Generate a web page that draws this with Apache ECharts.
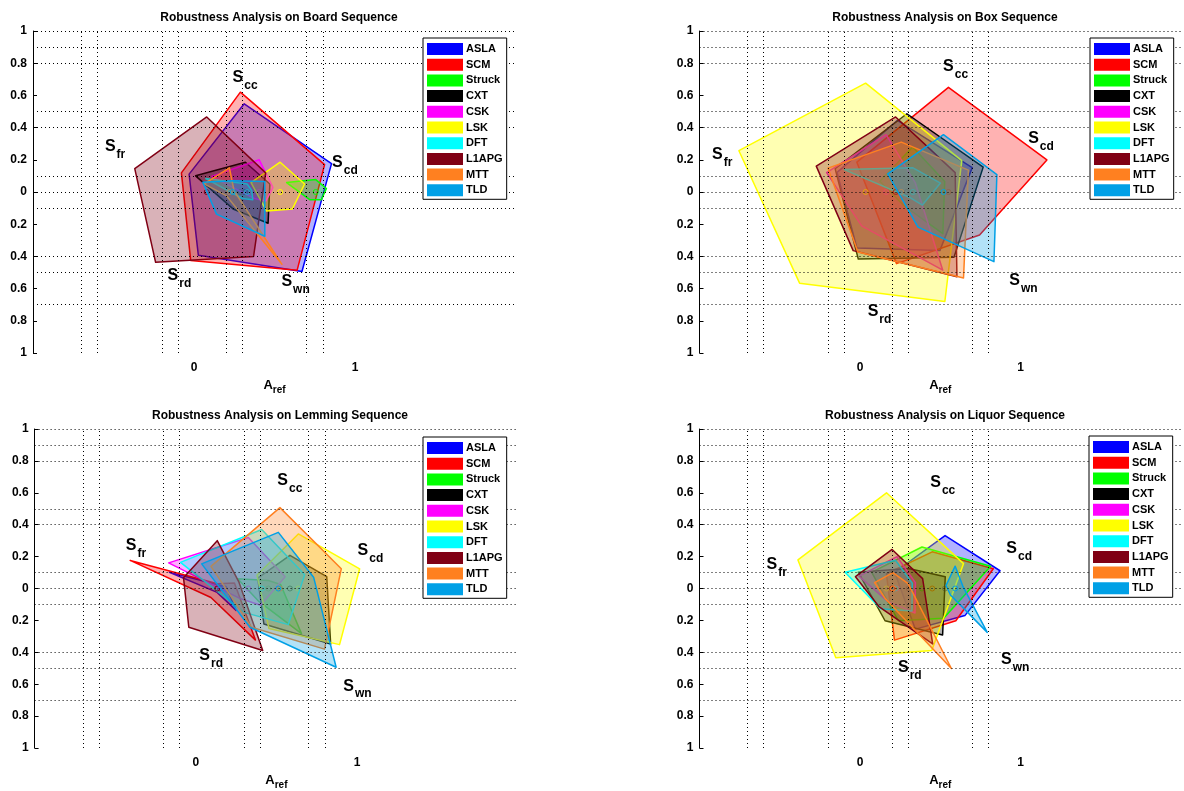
<!DOCTYPE html>
<html>
<head>
<meta charset="utf-8">
<script src="https://cdn.jsdelivr.net/npm/echarts@6/dist/echarts.min.js"></script>
<style>
html,body{margin:0;padding:0;background:#fff;}
#chart{width:1184px;height:791px;}
</style>
</head>
<body>
<div id="chart"></div>
<script>
// ---------------- data ----------------
const trackers = ['ASLA','SCM','Struck','CXT','CSK','LSK','DFT','L1APG','MTT','TLD'];
const trackerColors = ['#0000ff','#ff0000','#00ff00','#000000','#ff00ff','#ffff00','#00ffff','#800014','#ff8020','#00a0e6'];
const sequences = ['Board','Box','Lemming','Liquor'];
const axisNames = ['cc','cd','wn','rd','fr'];
const axisAngles = [90, 18, -54, -126, 162];

// Board sequence: A_ref and robustness scores per tracker (order of `trackers`)
const boardAref = [0.312, 0.288, 0.756, 0.319, 0.405, 0.535, 0.33, 0.079, 0.22, 0.24];
const boardCC   = [0.548, 0.62, 0.077, 0.185, 0.20, 0.185, 0.05, 0.466, 0.15, 0.07];
const boardCD   = [0.57, 0.55, 0.07, 0.16, 0.09, 0.16, 0.03, 0.385, 0.03, 0.21];
const boardWN   = [0.61, 0.60, 0.06, 0.24, 0.07, 0.13, 0.06, 0.495, 0.555, 0.34];
const boardRD   = [0.485, 0.525, 0.06, 0.13, 0.05, 0.145, 0.05, 0.54, 0.03, 0.17];
const boardFR   = [0.36, 0.385, 0.19, 0.325, 0.31, 0.19, 0.27, 0.47, 0.165, 0.195];

// Box sequence
const boxAref = [0.233, 0.551, 0.328, 0.292, 0.163, 0.035, 0.33, 0.222, 0.257, 0.52];
const boxCC   = [0.445, 0.65, 0.28, 0.486, 0.356, 0.676, 0.15, 0.466, 0.31, 0.356];
const boxCD   = [0.49, 0.645, 0.21, 0.50, 0.19, 0.63, 0.18, 0.39, 0.44, 0.35];
const boxWN   = [0.45, 0.33, 0.32, 0.50, 0.60, 0.84, 0.10, 0.65, 0.66, 0.535];
const boxRD   = [0.43, 0.55, 0.10, 0.515, 0.26, 0.70, 0.04, 0.45, 0.46, 0.27];
const boxFR   = [0.395, 0.60, 0.215, 0.47, 0.39, 0.83, 0.45, 0.52, 0.48, 0.365];

// Lemming sequence
const lemmingAref = [0.15, 0.135, 0.45, 0.584, 0.326, 0.636, 0.409, 0.133, 0.522, 0.512];
const lemmingCC   = [0.02, 0.03, 0.05, 0.208, 0.32, 0.342, 0.37, 0.30, 0.507, 0.352];
const lemmingCD   = [0.04, 0.11, 0.08, 0.24, 0.24, 0.40, 0.28, 0.14, 0.40, 0.23];
const lemmingWN   = [0.17, 0.40, 0.35, 0.43, 0.13, 0.435, 0.28, 0.48, 0.47, 0.61];
const lemmingRD   = [0.03, 0.07, 0.10, 0.275, 0.08, 0.31, 0.185, 0.30, 0.30, 0.30];
const lemmingFR   = [0.33, 0.57, 0.20, 0.21, 0.52, 0.27, 0.53, 0.22, 0.45, 0.50];

// Liquor sequence
const liquorAref = [0.53, 0.45, 0.386, 0.303, 0.231, 0.165, 0.221, 0.20, 0.205, 0.593];
const liquorCC   = [0.332, 0.23, 0.26, 0.126, 0.20, 0.60, 0.177, 0.245, 0.10, 0.14];
const liquorCD   = [0.36, 0.40, 0.45, 0.24, 0.12, 0.505, 0.11, 0.20, 0.10, 0.05];
const liquorWN   = [0.21, 0.25, 0.23, 0.36, 0.19, 0.48, 0.175, 0.43, 0.62, 0.34];
const liquorRD   = [0.315, 0.40, 0.25, 0.25, 0.10, 0.537, 0.157, 0.14, 0.08, 0.05];
const liquorFR   = [0.33, 0.30, 0.33, 0.33, 0.25, 0.58, 0.33, 0.24, 0.12, 0.06];

// tick labels / grid lines
const xTickLabels = ['0', '1'];
const hGridLines = [1, 0.9, 0.8, 0.5, 0.4, 0.1, 0, -0.1, -0.4, -0.5, -0.7];
const vGridBoard = [-0.7, -0.6, -0.2, -0.1, 0.2, 0.3, 0.7, 0.8];
const vGridBox = [-0.7, -0.6, -0.2, -0.1, 0.2, 0.3, 0.7, 0.8];
const vGridLemming = [-0.7, -0.6, -0.2, -0.1, 0.3, 0.4, 0.7, 0.8];
const vGridLiquor = [-0.7, -0.6, -0.2, -0.1, 0.2, 0.3, 0.7, 0.8];

// ---------------- layout (pixels / annotation placement) ----------------
const panels = [
  {seq:'Board', aref:boardAref, cc:boardCC, cd:boardCD, wn:boardWN, rd:boardRD, fr:boardFR, vgrid:vGridBoard,
   grid:{left:33, top:31, width:483, height:322}, titleX:274, titleY:7, legend:{left:423, top:38},
   labels:[[0.277,0.711],[0.895,0.18],[0.58,-0.558],[-0.127,-0.517],[-0.516,0.284]]},
  {seq:'Box', aref:boxAref, cc:boxCC, cd:boxCD, wn:boxWN, rd:boxRD, fr:boxFR, vgrid:vGridBox,
   grid:{left:699.5, top:31, width:484.5, height:322}, titleX:940, titleY:7, legend:{left:1090, top:38},
   labels:[[0.555,0.779],[1.085,0.329],[0.968,-0.552],[0.085,-0.742],[-0.885,0.232]]},
  {seq:'Lemming', aref:lemmingAref, cc:lemmingCC, cd:lemmingCD, wn:lemmingWN, rd:lemmingRD, fr:lemmingFR, vgrid:vGridLemming,
   grid:{left:34.6, top:429, width:483.6, height:322}, titleX:275, titleY:405, legend:{left:423, top:437},
   labels:[[0.543,0.678],[1.041,0.239],[0.952,-0.612],[0.059,-0.42],[-0.397,0.27]]},
  {seq:'Liquor', aref:liquorAref, cc:liquorCC, cd:liquorCD, wn:liquorWN, rd:liquorRD, fr:liquorFR, vgrid:vGridLiquor,
   grid:{left:699.5, top:429, width:484.5, height:322}, titleX:940, titleY:405, legend:{left:1089, top:436},
   labels:[[0.475,0.666],[0.949,0.249],[0.916,-0.448],[0.274,-0.497],[-0.545,0.15]]}
];

const FONT = '"Liberation Sans", Arial, Helvetica, sans-serif';

function hexToRgba(hex, a){
  const n = parseInt(hex.slice(1), 16);
  return 'rgba(' + ((n>>16)&255) + ',' + ((n>>8)&255) + ',' + (n&255) + ',' + a + ')';
}

const grids = [], xAxes = [], yAxes = [], titles = [], legends = [], series = [];

panels.forEach(function(p, pi){
  grids.push(Object.assign({containLabel:false}, p.grid));
  titles.push({
    text: 'Robustness Analysis on ' + p.seq + ' Sequence',
    left: p.titleX, top: p.titleY, textAlign: 'center',
    textStyle: {fontFamily: FONT, fontSize: 12, fontWeight: 'bold', color: '#000'}
  });
  xAxes.push({
    type: 'value', gridIndex: pi, min: -1, max: 2, interval: 1,
    axisLine: {show: false, onZero: false}, axisTick: {show: false}, splitLine: {show: false},
    axisLabel: {
      margin: 9, fontFamily: FONT, fontSize: 12, fontWeight: 'bold', color: '#000',
      formatter: function(v){ const s = String(Math.round(v)); return xTickLabels.indexOf(s) >= 0 ? s : ''; }
    },
    name: '{a|A}{b|ref}', nameLocation: 'middle', nameGap: 22,
    nameTextStyle: {
      rich: {
        a: {fontFamily: FONT, fontSize: 13, fontWeight: 'bold', color: '#000'},
        b: {fontFamily: FONT, fontSize: 10, fontWeight: 'bold', color: '#000', padding: [10, 0, 0, 0]}
      }
    }
  });
  yAxes.push({
    type: 'value', gridIndex: pi, min: -1, max: 1, interval: 0.2,
    axisLine: {show: true, onZero: false, lineStyle: {color: '#000', width: 1}},
    axisTick: {show: true, inside: true, length: 4, lineStyle: {color: '#000'}},
    splitLine: {show: false},
    axisLabel: {
      margin: 6, fontFamily: FONT, fontSize: 12, fontWeight: 'bold', color: '#000',
      formatter: function(v){ return String(parseFloat(Math.abs(v).toFixed(1))); }
    }
  });
  legends.push({
    data: trackers.slice(), orient: 'vertical', left: p.legend.left, top: p.legend.top,
    icon: 'rect', itemWidth: 36, itemHeight: 12, itemGap: 3.7,
    borderColor: '#000', borderWidth: 1, padding: [5, 4, 3, 4],
    backgroundColor: '#fff', z: 10,
    selectedMode: false,
    textStyle: {fontFamily: FONT, fontSize: 11, fontWeight: 'bold', color: '#000', padding: [0,0,0,-2]}
  });

  // grid lines (dotted) via markLine
  const ml = [];
  hGridLines.forEach(function(v){ ml.push({yAxis: v}); });
  p.vgrid.forEach(function(v){ ml.push({xAxis: v}); });
  series.push({
    type: 'scatter', xAxisIndex: pi, yAxisIndex: pi, data: [], silent: true, z: 1,
    markLine: {
      silent: true, symbol: ['none','none'], animation: false,
      label: {show: false},
      lineStyle: {type: [1, 3], color: '#000', width: 1},
      emphasis: {disabled: true},
      data: ml
    }
  });

  // polygons
  trackers.forEach(function(name, i){
    const col = trackerColors[i];
    series.push({
      name: name, type: 'custom', xAxisIndex: pi, yAxisIndex: pi, z: 3,
      itemStyle: {color: col},
      data: [[p.aref[i], p.cc[i], p.cd[i], p.wn[i], p.rd[i], p.fr[i]]],
      silent: true,
      renderItem: function(params, api){
        const cx = api.value(0);
        const pts = [];
        for (let k = 0; k < 5; k++) {
          const r = api.value(k + 1);
          const a = axisAngles[k] * Math.PI / 180;
          pts.push(api.coord([cx + r * Math.cos(a), r * Math.sin(a)]));
        }
        const c = api.coord([cx, 0]);
        return {
          type: 'group',
          children: [
            {type: 'polygon', shape: {points: pts},
             style: {fill: hexToRgba(col, 0.3), stroke: col, lineWidth: 1.5, lineJoin: 'round'}},
            {type: 'circle', shape: {cx: c[0], cy: c[1], r: 2.5},
             style: {fill: 'none', stroke: col, lineWidth: 1}}
          ]
        };
      }
    });
  });

  // S_xx axis labels
  series.push({
    type: 'scatter', xAxisIndex: pi, yAxisIndex: pi, z: 5, silent: true, symbolSize: 0,
    itemStyle: {opacity: 1},
    data: p.labels.map(function(pos, k){ return {value: pos, name: axisNames[k]}; }),
    label: {
      show: true, position: [-6, 0], align: 'left', verticalAlign: 'middle', color: '#000',
      textBorderWidth: 0, fontWeight: 'bold', opacity: 1,
      formatter: function(d){ return '{s|S}{t|' + d.name + '}'; },
      rich: {
        s: {fontFamily: FONT, fontSize: 16, fontWeight: 'bold', color: '#000', textBorderWidth: 0},
        t: {fontFamily: FONT, fontSize: 12, fontWeight: 'bold', color: '#000', textBorderWidth: 0, padding: [16, 0, 0, 1]}
      }
    },
    labelLayout: {hideOverlap: false}
  });
});

const chart = echarts.init(document.getElementById('chart'), null, {renderer: 'canvas'});
chart.setOption({
  animation: false,
  backgroundColor: '#fff',
  title: titles,
  legend: legends,
  grid: grids,
  xAxis: xAxes,
  yAxis: yAxes,
  series: series
});
</script>
</body>
</html>
